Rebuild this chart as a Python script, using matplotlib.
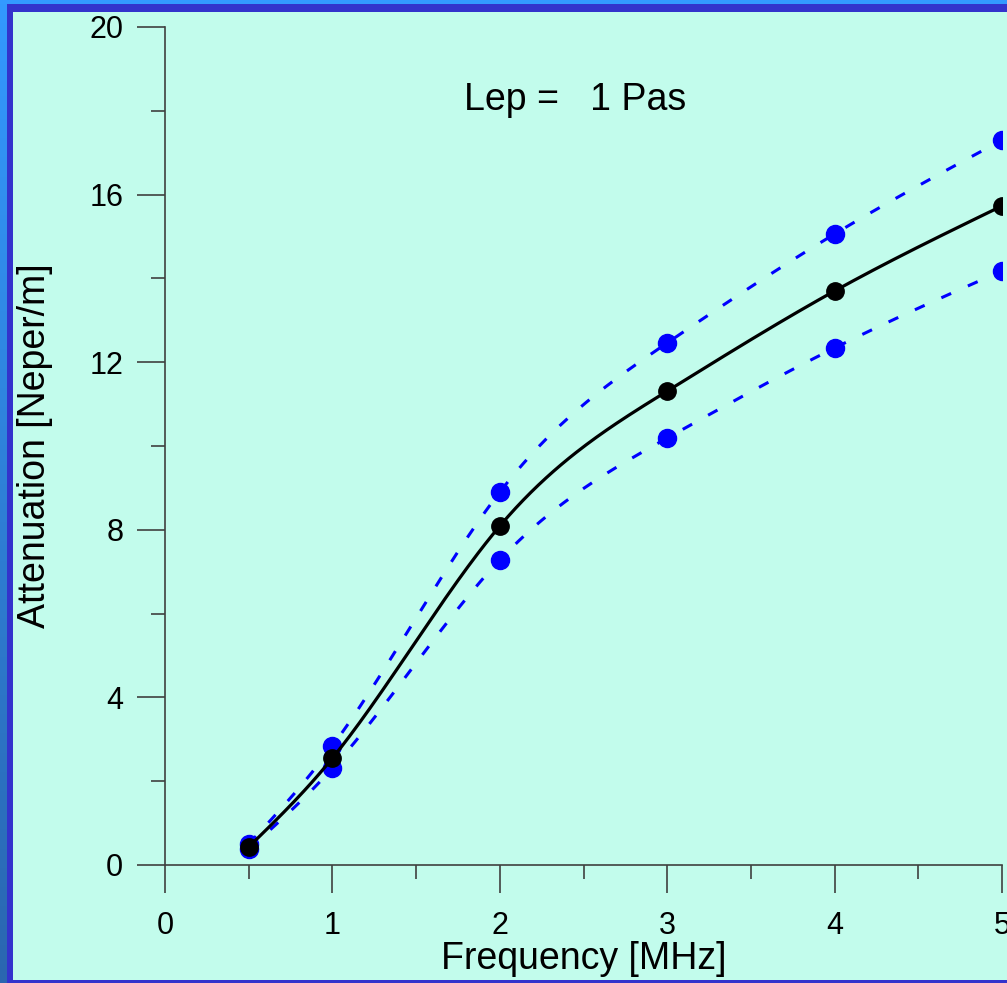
import numpy as np
import matplotlib
matplotlib.use("Agg")
import matplotlib.pyplot as plt
from matplotlib.patches import Rectangle

plt.rcParams['font.family'] = ['Liberation Sans', 'DejaVu Sans']

# data
freq = [0.5, 1, 2, 3, 4, 5]
att_mean = [0.43, 2.55, 8.09, 11.31, 13.70, 15.73]
att_upper = [0.50, 2.84, 8.90, 12.46, 15.06, 17.30]
att_lower = [0.38, 2.31, 7.28, 10.19, 12.34, 14.18]

x_ticks = [0, 1, 2, 3, 4, 5]
y_ticks = [0, 4, 8, 12, 16, 20]
label_text = "Lep =   1 Pas"


def natural_spline(x, y, n=300):
    # plain natural cubic spline, no scipy needed
    x = np.asarray(x, float)
    y = np.asarray(y, float)
    k = len(x)
    h = np.diff(x)
    A = np.zeros((k, k))
    b = np.zeros(k)
    A[0, 0] = A[-1, -1] = 1
    for i in range(1, k - 1):
        A[i, i - 1] = h[i - 1]
        A[i, i] = 2 * (h[i - 1] + h[i])
        A[i, i + 1] = h[i]
        b[i] = 3 * ((y[i + 1] - y[i]) / h[i] - (y[i] - y[i - 1]) / h[i - 1])
    c = np.linalg.solve(A, b)
    xs = np.linspace(x[0], x[-1], n)
    ys = np.empty_like(xs)
    for j, xv in enumerate(xs):
        i = min(np.searchsorted(x, xv, side='right') - 1, k - 2)
        d = xv - x[i]
        bi = (y[i + 1] - y[i]) / h[i] - h[i] * (2 * c[i] + c[i + 1]) / 3
        di = (c[i + 1] - c[i]) / (3 * h[i])
        ys[j] = y[i] + bi * d + c[i] * d ** 2 + di * d ** 3
    return xs, ys


W, H = 1007, 983
fig = plt.figure(figsize=(W / 100, H / 100), dpi=100)
bg_col = '#c2fcec'
fig.patch.set_facecolor(bg_col)

# frame around the slide, in pixel coords
bg = fig.add_axes([0, 0, 1, 1], zorder=-5)
bg.axis('off')
grad = np.linspace(0, 1, 256).reshape(-1, 1)
cmap = matplotlib.colors.LinearSegmentedColormap.from_list('edge', ['#3399ff', '#2a66b0'])
bg.imshow(grad, cmap=cmap, extent=[0, 7, H, 0], aspect='auto')
bg.add_patch(Rectangle((0, 0), W, 4, color='#3399ff', lw=0))
bg.add_patch(Rectangle((7, 4), W, 8, color='#3333cc', lw=0))
bg.add_patch(Rectangle((7, 4), 6, H, color='#3333cc', lw=0))
bg.add_patch(Rectangle((7, 980), W, 3, color='#3333cc', lw=0))
bg.add_patch(Rectangle((13, 12), W, 968, color=bg_col, lw=0))
bg.set_xlim(0, W)
bg.set_ylim(H, 0)

ax = fig.add_axes([165 / W, (H - 865) / H, 837 / W, 838 / H])
ax.set_facecolor('none')

for yy in (att_upper, att_lower):
    xs, ys = natural_spline(freq, yy)
    ax.plot(xs, ys, color='#0000ff', lw=2.2, dashes=(3.5, 6), zorder=2)
    ax.plot(freq, yy, 'o', color='#0000ff', ms=13, zorder=3)

xs, ys = natural_spline(freq, att_mean)
ax.plot(xs, ys, color='black', lw=2.3, zorder=4)
ax.plot(freq, att_mean, 'o', color='black', ms=12.5, zorder=5)

ax.set_xlim(0, 5)
ax.set_ylim(0, 20)
ax.set_xticks(x_ticks)
ax.set_yticks(y_ticks)
ax.set_xticks(np.arange(0.5, 5, 1), minor=True)
ax.set_yticks(np.arange(2, 20, 4), minor=True)

for s in ['top', 'right']:
    ax.spines[s].set_visible(False)
for s in ['left', 'bottom']:
    ax.spines[s].set_color('#404040')
    ax.spines[s].set_linewidth(1.2)

ax.tick_params(which='major', direction='out', length=20, width=1.2, color='#404040',
               labelsize=22, labelcolor='black')
ax.tick_params(which='minor', direction='out', length=10, width=1.2, color='#404040')
ax.tick_params(axis='x', which='major', pad=13)
ax.tick_params(axis='y', which='major', pad=10)

ax.set_xlabel('Frequency [MHz]', fontsize=27, labelpad=0)
ax.set_ylabel('Attenuation [Neper/m]', fontsize=27, labelpad=26)

ax.text(2.45, 18.25, label_text, fontsize=27, ha='center', va='center')

fig.savefig('out.png', dpi=100, facecolor=fig.get_facecolor())
